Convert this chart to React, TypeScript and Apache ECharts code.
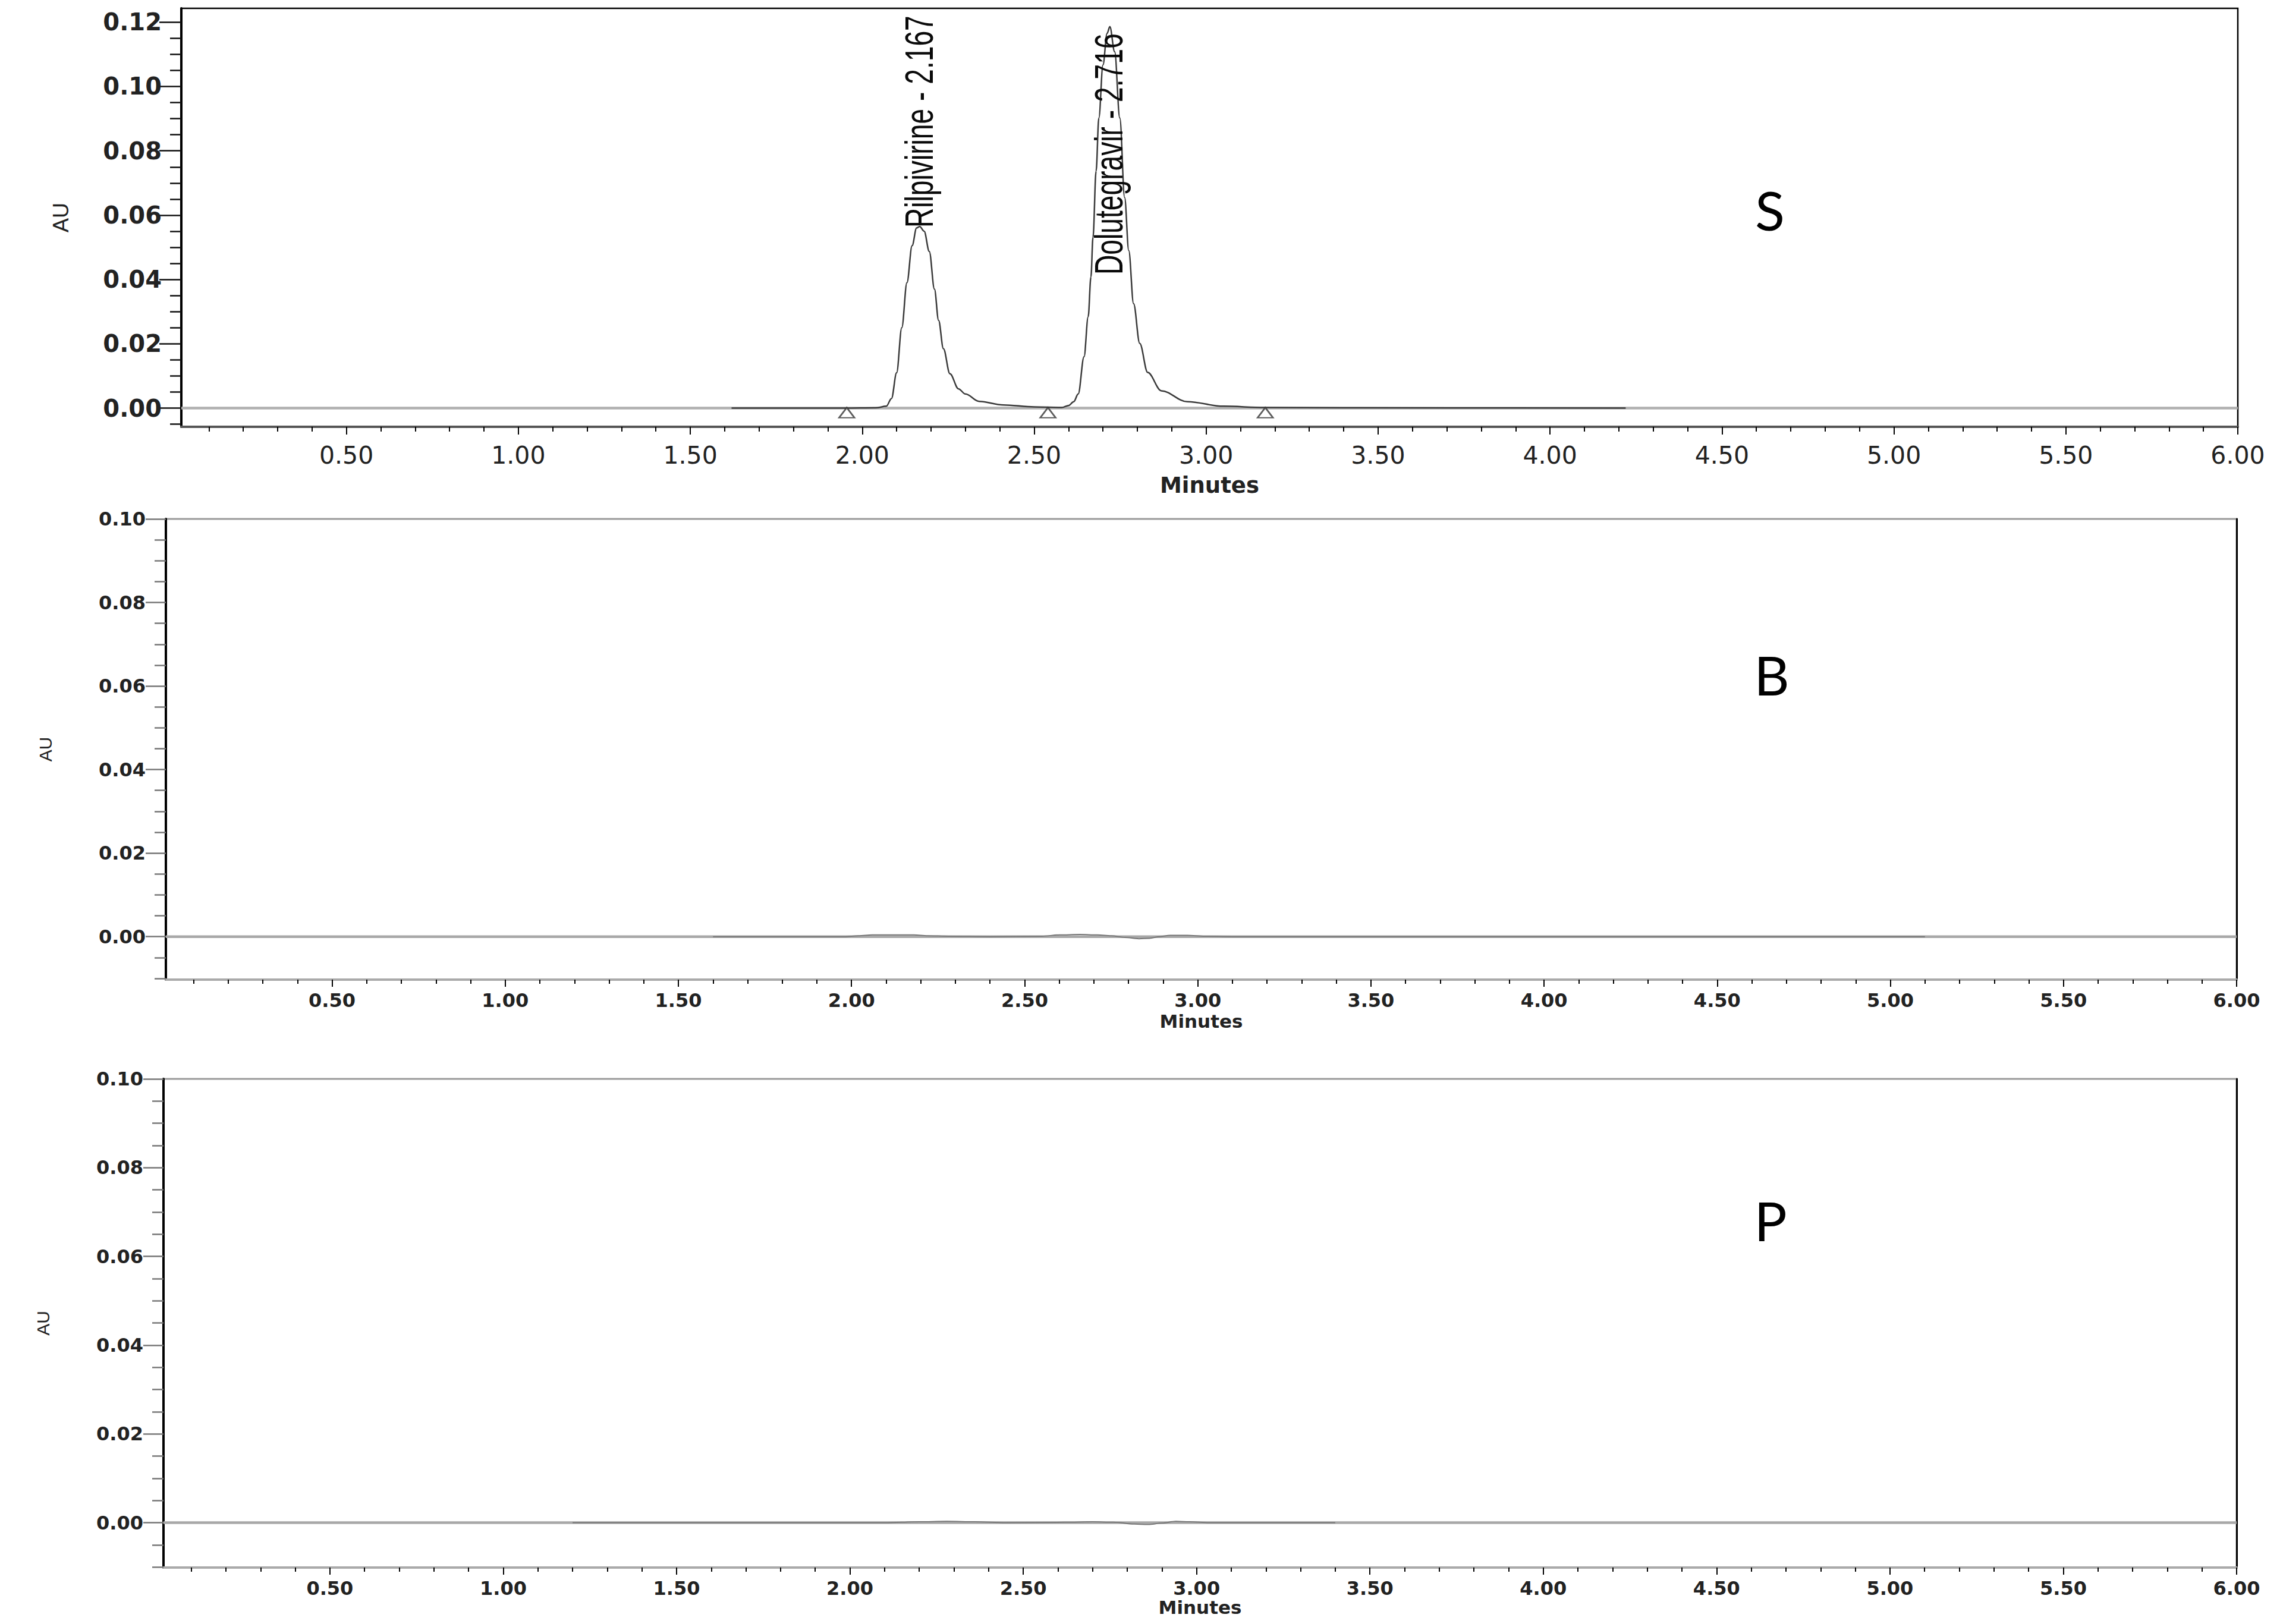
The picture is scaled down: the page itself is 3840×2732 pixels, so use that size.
import React, { useEffect, useRef } from "react";
import * as echarts from "echarts";

// ---------- Data ----------
// Panel S (standard) trace
const traceSTimes = [1.62, 1.95, 2.04, 2.07, 2.085, 2.10, 2.115, 2.13, 2.145, 2.158, 2.167, 2.18, 2.195, 2.21, 2.222, 2.236, 2.255, 2.28, 2.30, 2.34, 2.41, 2.50, 2.58, 2.60, 2.615, 2.628, 2.645, 2.657, 2.665, 2.671, 2.68, 2.688, 2.70, 2.712, 2.72, 2.734, 2.749, 2.763, 2.775, 2.789, 2.807, 2.83, 2.87, 2.945, 3.05, 3.17, 3.40, 4.22];
const traceSValues = [0, 0, 0.0001, 0.0006, 0.003, 0.011, 0.025, 0.039, 0.0505, 0.056, 0.0565, 0.055, 0.0487, 0.037, 0.0273, 0.0185, 0.0107, 0.006, 0.0044, 0.0021, 0.001, 0.0004, 0.0002, 0.0008, 0.002, 0.0044, 0.016, 0.0284, 0.0408, 0.0531, 0.0737, 0.0902, 0.1067, 0.1165, 0.1186, 0.1108, 0.0902, 0.0655, 0.049, 0.0325, 0.0201, 0.0111, 0.0054, 0.002, 0.0006, 0.0002, 0.0001, 0];

// Peak annotations (label start point: retention time, height where text begins)
const peakLabelTimes = [2.166, 2.717];
const peakLabelHeights = [0.0561, 0.0415];
const peakLabelTexts = ["Rilpivirine - 2.167", "Dolutegravir - 2.716"];

// Integration start/end markers (open triangles)
const markerTimes = [1.955, 2.54, 3.172];
const markerValues = [-0.0014, -0.0014, -0.0014];

// Panel B (blank) trace
const traceBTimes = [1.60, 1.98, 2.02, 2.06, 2.12, 2.18, 2.22, 2.28, 2.40, 2.55, 2.60, 2.66, 2.71, 2.75, 2.79, 2.83, 2.86, 2.89, 2.92, 2.97, 3.02, 3.10, 3.60, 4.40, 5.10];
const traceBValues = [0, 0, 0.0002, 0.0004, 0.0004, 0.0004, 0.0002, 0.0001, 0, 0.0001, 0.0004, 0.0005, 0.0004, 0.0002, -0.0002, -0.0005, -0.0004, 0, 0.0003, 0.0003, 0.0001, 0, 0, 0, 0];

// Panel P (placebo) trace
const tracePTimes = [1.20, 2.10, 2.20, 2.28, 2.36, 2.45, 2.62, 2.70, 2.76, 2.82, 2.86, 2.90, 2.94, 2.98, 3.04, 3.40];
const tracePValues = [0, 0, 0.0002, 0.0003, 0.0002, 0, 0.0001, 0.0002, 0.0001, -0.0003, -0.0004, -0.0001, 0.0003, 0.0002, 0, 0];

// Baselines
const baselineTimes = [0.02, 6.0];
const baselineValues = [0, 0];

// Panel letters
const panelLetters = ["S", "B", "P"];

// Axis ticks
const xMajorTicks = [0.5, 1.0, 1.5, 2.0, 2.5, 3.0, 3.5, 4.0, 4.5, 5.0, 5.5, 6.0];
const xMinorTicks = [0.1, 0.2, 0.3, 0.4, 0.6, 0.7, 0.8, 0.9, 1.1, 1.2, 1.3, 1.4, 1.6, 1.7, 1.8, 1.9, 2.1, 2.2, 2.3, 2.4, 2.6, 2.7, 2.8, 2.9, 3.1, 3.2, 3.3, 3.4, 3.6, 3.7, 3.8, 3.9, 4.1, 4.2, 4.3, 4.4, 4.6, 4.7, 4.8, 4.9, 5.1, 5.2, 5.3, 5.4, 5.6, 5.7, 5.8, 5.9];
const yMajorTicksS = [0, 0.02, 0.04, 0.06, 0.08, 0.10, 0.12];
const yMinorTicksS = [-0.005, 0.005, 0.01, 0.015, 0.025, 0.03, 0.035, 0.045, 0.05, 0.055, 0.065, 0.07, 0.075, 0.085, 0.09, 0.095, 0.105, 0.11, 0.115];
const yMajorTicksBP = [0, 0.02, 0.04, 0.06, 0.08, 0.10];
const yMinorTicksBP = [-0.01, -0.005, 0.005, 0.01, 0.015, 0.025, 0.03, 0.035, 0.045, 0.05, 0.055, 0.065, 0.07, 0.075, 0.085, 0.09, 0.095];

// ---------- Styling / layout ----------
const FONT = "'DejaVu Sans', sans-serif";
const ARIAL = "'Liberation Sans', Arial, sans-serif";

const pair = (t: number[], v: number[]) => t.map((x, i) => [x, v[i]]);
const fmt2 = (v: number) => v.toFixed(2);

const grids = [
  { left: 305, top: 14, width: 3459, height: 704 },
  { left: 279, top: 873, width: 3483, height: 775 },
  { left: 275, top: 1815, width: 3487, height: 822 },
];

type PanelCfg = {
  yMin: number; yMax: number; yMajor: number[]; yMinor: number[];
  xLineColor: string; xMajorLen: number; xMinorLen: number; xLabelMargin: number;
  xFont: number; xWeight: string; nameGap: number; nameFont: number;
  yTickColor: string; yMajorLen: number; yMinorLen: number; yLabelMargin: number;
  yFont: number; yWeight: string; auGap: number; auFont: number; rightAxis: boolean;
};

const panels: PanelCfg[] = [
  { yMin: -0.0058, yMax: 0.1243, yMajor: yMajorTicksS, yMinor: yMinorTicksS,
    xLineColor: "#555", xMajorLen: 13, xMinorLen: 8, xLabelMargin: 27, xFont: 41, xWeight: "normal",
    nameGap: 80, nameFont: 37, yTickColor: "#111", yMajorLen: 37, yMinorLen: 19, yLabelMargin: 33,
    yFont: 40, yWeight: "bold", auGap: 185, auFont: 36, rightAxis: false },
  { yMin: -0.0103, yMax: 0.10, yMajor: yMajorTicksBP, yMinor: yMinorTicksBP,
    xLineColor: "#aaa", xMajorLen: 12, xMinorLen: 7, xLabelMargin: 19, xFont: 32, xWeight: "bold",
    nameGap: 54, nameFont: 31, yTickColor: "#777", yMajorLen: 34, yMinorLen: 19, yLabelMargin: 34,
    yFont: 32, yWeight: "bold", auGap: 188, auFont: 30, rightAxis: true },
  { yMin: -0.0101, yMax: 0.10, yMajor: yMajorTicksBP, yMinor: yMinorTicksBP,
    xLineColor: "#aaa", xMajorLen: 12, xMinorLen: 7, xLabelMargin: 19, xFont: 32, xWeight: "bold",
    nameGap: 37, nameFont: 31, yTickColor: "#777", yMajorLen: 34, yMinorLen: 19, yLabelMargin: 34,
    yFont: 32, yWeight: "bold", auGap: 188, auFont: 30, rightAxis: true },
];

function buildOption() {
  const xAxis: any[] = [];
  const yAxis: any[] = [];
  const xIdx: number[] = [];
  const yIdx: number[] = [];
  panels.forEach((p, g) => {
    xIdx.push(xAxis.length);
    xAxis.push({
      type: "value", gridIndex: g, min: 0.02, max: 6, position: "bottom",
      axisLine: { show: true, onZero: false, lineStyle: { color: p.xLineColor, width: 4 } },
      axisTick: { show: true, inside: false, length: p.xMajorLen, customValues: xMajorTicks, lineStyle: { color: "#000", width: 2 } },
      axisLabel: { show: true, customValues: xMajorTicks, formatter: fmt2, margin: p.xLabelMargin,
        fontFamily: FONT, fontSize: p.xFont, fontWeight: p.xWeight, color: "#222" },
      splitLine: { show: false },
      name: "Minutes", nameLocation: "middle", nameGap: p.nameGap,
      nameTextStyle: { fontFamily: FONT, fontSize: p.nameFont, fontWeight: "bold", color: "#222" },
    });
    xAxis.push({
      type: "value", gridIndex: g, min: 0.02, max: 6, position: "bottom",
      axisLine: { show: false, onZero: false },
      axisTick: { show: true, inside: false, length: p.xMinorLen, customValues: xMinorTicks, lineStyle: { color: "#000", width: 2 } },
      axisLabel: { show: false }, splitLine: { show: false },
    });
    yIdx.push(yAxis.length);
    yAxis.push({
      type: "value", gridIndex: g, min: p.yMin, max: p.yMax, position: "left",
      axisLine: { show: true, onZero: false, lineStyle: { color: "#000", width: 4 } },
      axisTick: { show: true, inside: false, length: p.yMajorLen, customValues: p.yMajor, lineStyle: { color: p.yTickColor, width: 2.5 } },
      axisLabel: { show: true, customValues: p.yMajor, formatter: fmt2, margin: p.yLabelMargin,
        fontFamily: FONT, fontSize: p.yFont, fontWeight: p.yWeight, color: "#222" },
      splitLine: { show: false },
      name: "AU", nameLocation: "middle", nameGap: p.auGap, nameRotate: 90,
      nameTextStyle: { fontFamily: ARIAL, fontSize: p.auFont, color: "#222" },
    });
    yAxis.push({
      type: "value", gridIndex: g, min: p.yMin, max: p.yMax, position: "left",
      axisLine: { show: false, onZero: false },
      axisTick: { show: true, inside: false, length: p.yMinorLen, customValues: p.yMinor, lineStyle: { color: p.yTickColor, width: 2.5 } },
      axisLabel: { show: false }, splitLine: { show: false },
    });
    if (p.rightAxis) {
      yAxis.push({
        type: "value", gridIndex: g, min: p.yMin, max: p.yMax, position: "right",
        axisLine: { show: true, onZero: false, lineStyle: { color: "#000", width: 3 } },
        axisTick: { show: false }, axisLabel: { show: false }, splitLine: { show: false },
      });
    }
  });

  const baseline = (g: number, color: string, width: number) => ({
    type: "line", xAxisIndex: xIdx[g], yAxisIndex: yIdx[g], data: pair(baselineTimes, baselineValues),
    showSymbol: false, symbol: "none", silent: true, z: 1,
    lineStyle: { color, width },
  });
  const trace = (g: number, t: number[], v: number[], color: string, width: number) => ({
    type: "line", xAxisIndex: xIdx[g], yAxisIndex: yIdx[g], data: pair(t, v),
    showSymbol: false, symbol: "none", smooth: 0.35, smoothMonotone: "x", silent: true, z: 3,
    lineStyle: { color, width },
  });

  const series: any[] = [
    baseline(0, "#b0b0b0", 4.5),
    trace(0, traceSTimes, traceSValues, "#3a3a3a", 2.5),
    {
      type: "scatter", xAxisIndex: xIdx[0], yAxisIndex: yIdx[0], data: pair(markerTimes, markerValues),
      symbol: "triangle", symbolSize: [26, 17], z: 4, silent: true,
      itemStyle: { color: "#fff", borderColor: "#333", borderWidth: 2.5 },
    },
    baseline(1, "#a8a8a8", 4.5),
    trace(1, traceBTimes, traceBValues, "#777", 2),
    baseline(2, "#a8a8a8", 4.5),
    trace(2, tracePTimes, tracePValues, "#777", 2),
  ];

  const letterPos = [[2977, 352], [2980, 1134], [2978, 2052]];
  const graphic = panelLetters.map((s, i) => ({
    id: "letter" + i, type: "text", x: letterPos[i][0], y: letterPos[i][1], z: 10,
    style: { text: s, fontFamily: "Lato, 'Open Sans', sans-serif", fontSize: 92, fill: "#000", align: "center", verticalAlign: "middle" },
  }));

  return {
    animation: false,
    backgroundColor: "#fff",
    textStyle: { fontFamily: FONT },
    grid: grids.map((g, i) => ({
      ...g, show: true, backgroundColor: "transparent",
      borderColor: i === 0 ? "#000" : "#9a9a9a", borderWidth: i === 0 ? 2.5 : 3, containLabel: false,
    })),
    xAxis, yAxis, series, graphic,
  };
}

export default function App() {
  const ref = useRef<HTMLDivElement>(null);
  useEffect(() => {
    if (!ref.current) return;
    const chart = echarts.init(ref.current, null, { renderer: "svg" });
    chart.setOption(buildOption() as any);
    // Peak labels: condensed rotated text anchored at data coordinates of panel S
    const labels = peakLabelTexts.map((txt, i) => {
      const pt = chart.convertToPixel({ xAxisIndex: 0, yAxisIndex: 0 } as any, [peakLabelTimes[i], peakLabelHeights[i]]) as number[];
      return {
        id: "peak" + i, type: "text", x: pt[0], y: pt[1], rotation: Math.PI / 2, scaleX: 0.7, scaleY: 1, z: 12,
        style: { text: txt, fontFamily: ARIAL, fontSize: 66, fill: "#0a0a0a", align: "left", verticalAlign: "middle" },
      };
    });
    chart.setOption({ graphic: labels } as any);
    return () => chart.dispose();
  }, []);
  return (
    <div
      ref={ref}
      style={{ position: "absolute", left: 0, top: 0, width: 3840, height: 2732, background: "#fff" }}
    />
  );
}
